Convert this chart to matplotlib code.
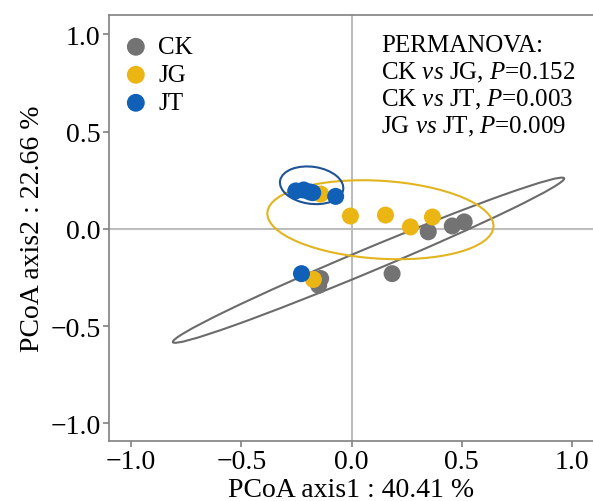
import matplotlib
matplotlib.use("Agg")
from matplotlib import pyplot as plt
from matplotlib.patches import Ellipse

plt.rcParams['font.family'] = ['Liberation Serif', 'DejaVu Serif']
plt.rcParams['mathtext.fontset'] = 'custom'
plt.rcParams['mathtext.rm'] = 'Liberation Serif'
plt.rcParams['mathtext.it'] = 'Liberation Serif:italic'

# PCoA scores
ckX = [0.348, 0.457, 0.511, 0.184, -0.14, -0.149]
ckY = [-0.015, 0.015, 0.036, -0.23, -0.255, -0.29]
jgX = [-0.14, -0.005, 0.154, 0.267, 0.367, -0.173]
jgY = [0.179, 0.066, 0.071, 0.01, 0.061, -0.26]
jtX = [-0.253, -0.217, -0.176, -0.19, -0.072, -0.227]
jtY = [0.195, 0.2, 0.186, 0.19, 0.167, -0.23]

# ellipses: center x, center y, width, height, angle
ckEll = [0.077, -0.161, 1.964, 0.116, 25.4]
jgEll = [0.131, 0.047, 1.028, 0.40, -4.2]
jtEll = [-0.181, 0.224, 0.29, 0.19, -10]

groupNames = ["CK", "JG", "JT"]
pointColors = ['#737373', '#EBB514', '#1160B8']
ellColors = ['#6b6b6b', '#E2B41E', '#1F5296']

permLines = ["PERMANOVA:",
             r"CK $vs$ JG, $P$=0.152",
             r"CK $vs$ JT, $P$=0.003",
             r"JG $vs$ JT, $P$=0.009"]

fig = plt.figure(figsize=(5.93, 5.02), dpi=100)
ax = fig.add_axes([0.1838, 0.1195, 0.818, 0.849])

ax.axhline(0, color='#bdbdbd', lw=1.5, zorder=0)
ax.axvline(0, color='#bdbdbd', lw=1.5, zorder=0)

allX = [ckX, jgX, jtX]
allY = [ckY, jgY, jtY]
allEll = [ckEll, jgEll, jtEll]
for i in range(3):
    e = allEll[i]
    ax.add_patch(Ellipse((e[0], e[1]), e[2], e[3], angle=e[4], fill=False,
                         edgecolor=ellColors[i], lw=1.5, zorder=1))
for i in range(3):
    ax.scatter(allX[i], allY[i], s=150, color=pointColors[i], label=groupNames[i],
               edgecolors='none', zorder=2)

ax.set_xlim(-1.1, 1.1)
ax.set_ylim(-1.09, 1.1)
ax.set_xticks([-1.0, -0.5, 0.0, 0.5, 1.0])
ax.set_yticks([-1.0, -0.5, 0.0, 0.5, 1.0])
ax.tick_params(labelsize=20, length=4, width=1.2, color='#808080', pad=2)
for s in ax.spines.values():
    s.set_color('#808080')
    s.set_linewidth(1.2)

ax.set_xlabel("PCoA axis1 : 40.41 %", fontsize=20, labelpad=2)
ax.set_ylabel("PCoA axis2 : 22.66 %", fontsize=20, labelpad=4)

ax.legend(loc='upper left', bbox_to_anchor=(-0.022, 0.98), frameon=False, fontsize=18,
          handletextpad=-0.1, labelspacing=0.22, borderaxespad=0.2,
          borderpad=0.3, markerscale=1.05)

# one text per line, 27 px apart
for k, line in enumerate(permLines):
    ax.text(0.561, 0.93 - k * 0.0634, line, transform=ax.transAxes, fontsize=18,
            va='center', ha='left')

plt.savefig("out.png", dpi=100)
